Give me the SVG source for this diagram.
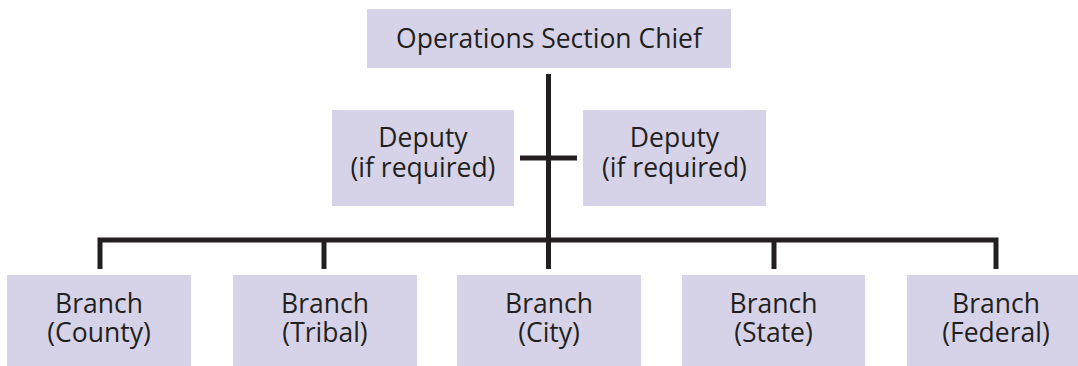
<svg xmlns="http://www.w3.org/2000/svg" width="1078" height="366" viewBox="0 0 1078 366">
<style>
.box{fill:#d6d3e8;}
.t{font-family:"Open Sans","Noto Sans",sans-serif;font-size:26.5px;fill:#231f20;text-anchor:middle;}
.ln{stroke:#231f20;stroke-width:5;fill:none;}
</style>
<rect width="1078" height="366" fill="#ffffff"/>
<g id="connectors">
<line class="ln" x1="548.5" y1="74" x2="548.5" y2="240"/>
<line class="ln" x1="520" y1="158" x2="577" y2="158"/>
<polyline class="ln" points="100,269 100,240 996,240 996,269"/>
<line class="ln" x1="324" y1="240" x2="324" y2="269"/>
<line class="ln" x1="548.5" y1="240" x2="548.5" y2="269"/>
<line class="ln" x1="774" y1="240" x2="774" y2="269"/>
</g>
<g id="chief">
<rect class="box" x="367" y="9" width="364" height="59"/>
<text class="t" x="549" y="48">Operations Section Chief</text>
</g>
<g id="deputy-left">
<rect class="box" x="332" y="110" width="182" height="96"/>
<text class="t"><tspan x="423" y="147">Deputy</tspan><tspan x="423" y="177">(if required)</tspan></text>
</g>
<g id="deputy-right">
<rect class="box" x="583" y="110" width="183" height="96"/>
<text class="t"><tspan x="674.5" y="147">Deputy</tspan><tspan x="674.5" y="177">(if required)</tspan></text>
</g>
<g id="branch-county">
<rect class="box" x="7" y="275" width="184" height="91"/>
<text class="t"><tspan x="99" y="313">Branch</tspan><tspan x="99" y="342">(County)</tspan></text>
</g>
<g id="branch-tribal">
<rect class="box" x="233" y="275" width="184" height="91"/>
<text class="t"><tspan x="325" y="313">Branch</tspan><tspan x="325" y="342">(Tribal)</tspan></text>
</g>
<g id="branch-city">
<rect class="box" x="457" y="275" width="184" height="91"/>
<text class="t"><tspan x="549" y="313">Branch</tspan><tspan x="549" y="342">(City)</tspan></text>
</g>
<g id="branch-state">
<rect class="box" x="682" y="275" width="183" height="91"/>
<text class="t"><tspan x="773.5" y="313">Branch</tspan><tspan x="773.5" y="342">(State)</tspan></text>
</g>
<g id="branch-federal">
<rect class="box" x="907" y="275" width="171" height="91"/>
<text class="t"><tspan x="996" y="313">Branch</tspan><tspan x="996" y="342">(Federal)</tspan></text>
</g>
</svg>
